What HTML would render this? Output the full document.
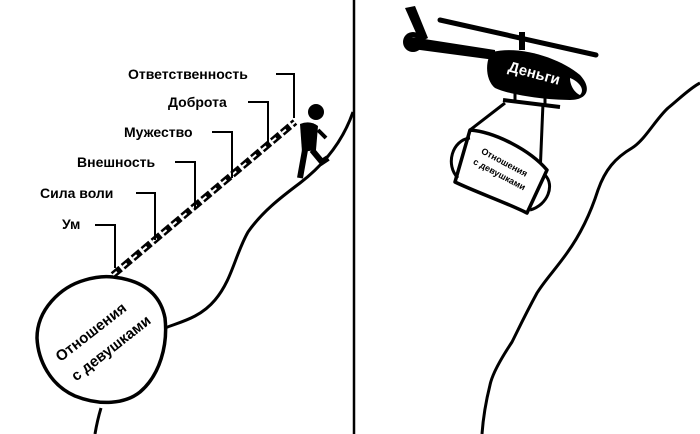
<!DOCTYPE html>
<html><head><meta charset="utf-8"><style>
html,body{margin:0;padding:0;background:#fff}
svg{display:block}
text{font-family:"Liberation Sans",sans-serif;font-weight:bold;fill:#000}
</style></head><body>
<svg width="700" height="434" viewBox="0 0 700 434" xmlns="http://www.w3.org/2000/svg">
<rect width="700" height="434" fill="#fff"/>
<line x1="354" y1="0" x2="354" y2="434" stroke="#000" stroke-width="2.5"/>
<path d="M353,112 C345,135 330,160 300,183 C280,198 262,212 248,232 C235,255 232,280 215,300 C200,318 180,322 165,328" fill="none" stroke="#000" stroke-width="3"/>
<path d="M101,408 C98,418 96,428 95,434" fill="none" stroke="#000" stroke-width="3"/>
<path d="M113,277 C140,280 160,292 165,318 C168,345 160,375 140,392 C125,404 100,406 75,396 C50,385 38,360 37,338 C37,310 60,287 85,280 C95,277 105,276 113,277 Z" fill="#fff" stroke="#000" stroke-width="3.5"/>
<text transform="translate(94,336) rotate(-38)" font-size="15" text-anchor="middle">Отношения</text>
<text transform="translate(114,352) rotate(-38)" font-size="15" text-anchor="middle">с девушками</text>
<line x1="113" y1="275" x2="295" y2="122" stroke="#000" stroke-width="7" stroke-dasharray="10 3"/>
<line x1="113" y1="275" x2="295" y2="122" stroke="#fff" stroke-width="2" stroke-dasharray="5 8"/>
<g fill="none" stroke="#000" stroke-width="2">
<path d="M276,74 H294 V118"/>
<path d="M248,102 H268 V148"/>
<path d="M212,132 H232 V178"/>
<path d="M175,162 H195 V208"/>
<path d="M136,193 H155 V240"/>
<path d="M95,225 H115 V268"/>
</g>
<text x="128" y="79" font-size="14">Ответственность</text>
<text x="168" y="107" font-size="14">Доброта</text>
<text x="124" y="137" font-size="14">Мужество</text>
<text x="77" y="167" font-size="14">Внешность</text>
<text x="40" y="198" font-size="14">Сила воли</text>
<text x="62" y="229" font-size="14">Ум</text>
<circle cx="316" cy="112" r="8" fill="#000"/>
<path d="M300,124 Q310,120 318,126 L316,150 L302,152 Z" fill="#000"/>
<path d="M305,150 L300,178 M312,150 L322,162 L328,158" fill="none" stroke="#000" stroke-width="6"/>
<path d="M318,130 L326,138" stroke="#000" stroke-width="4"/>
<path d="M700,83 C690,88 678,100 668,108 C655,120 645,140 632,148 C615,158 605,170 598,190 C590,215 580,235 567,253 C555,270 545,280 537,293 C525,315 518,330 512,342 C500,360 492,375 490,385 C485,405 483,420 482,434" fill="none" stroke="#000" stroke-width="3"/>
<line x1="440" y1="20" x2="596" y2="55" stroke="#000" stroke-width="5" stroke-linecap="round"/>
<line x1="522" y1="32" x2="522" y2="50" stroke="#000" stroke-width="6"/>
<path d="M405,8 L415,6 L428,38 L420,42 Z" fill="#000"/>
<circle cx="413" cy="42" r="10" fill="#000"/>
<circle cx="413" cy="42" r="5" fill="#fff"/>
<path d="M405,36 L495,50 L495,60 L405,48 Z" fill="#000"/>
<path d="M492,52 C520,45 560,58 580,75 C592,88 588,100 570,100 C545,100 510,95 495,88 C485,80 485,60 492,52 Z" fill="#000"/>
<path d="M570,78 C580,82 585,90 580,95 C575,93 570,86 570,78 Z" fill="#fff"/>
<line x1="503" y1="100" x2="560" y2="107" stroke="#000" stroke-width="4"/>
<line x1="515" y1="92" x2="515" y2="102" stroke="#000" stroke-width="3"/>
<line x1="545" y1="95" x2="545" y2="105" stroke="#000" stroke-width="3"/>
<text transform="translate(533,78) rotate(15)" font-size="15" text-anchor="middle" style="fill:#fff">Деньги</text>
<line x1="505" y1="103" x2="470" y2="130" stroke="#000" stroke-width="3"/>
<line x1="543" y1="103" x2="540" y2="175" stroke="#000" stroke-width="3"/>
<path d="M470,130 C495,132 530,150 547,170 L527,213 C505,202 478,193 455,182 Z" fill="#fff" stroke="#000" stroke-width="3.5" stroke-linejoin="round"/>
<path d="M470,138 C452,140 445,165 458,178 M545,175 C555,185 548,205 530,210" fill="none" stroke="#000" stroke-width="3"/>
<text transform="translate(503,165) rotate(28)" font-size="9" text-anchor="middle">Отношения</text>
<text transform="translate(498,177) rotate(28)" font-size="9" text-anchor="middle">с девушками</text>
</svg>
</body></html>
